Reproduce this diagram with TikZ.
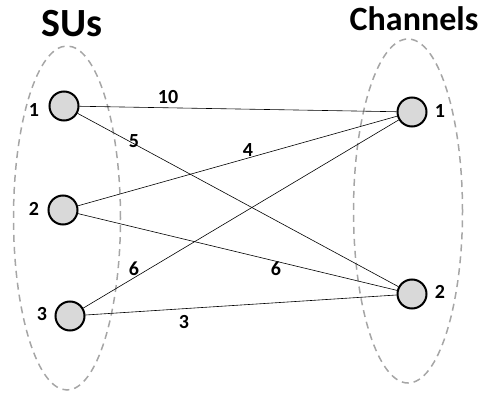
\documentclass[tikz,border=0pt]{standalone}
\usepackage{fontspec}
\setmainfont{Carlito}
\usetikzlibrary{shapes.geometric}
\definecolor{nodefill}{HTML}{D9D9D9}
\definecolor{ringgray}{HTML}{A6A6A6}
\tikzset{
  vert/.style={circle,draw=black,line width=2pt,fill=nodefill,minimum size=29pt,inner sep=0pt},
  ring/.style={ellipse,draw=ringgray,line width=1.5pt,dash pattern=on 7pt off 5pt,inner sep=0pt},
  lbl/.style={font=\fontsize{20}{22}\selectfont\bfseries,inner sep=0pt},
  edge/.style={line width=0.6pt,black}
}
\begin{document}
\begin{tikzpicture}[x=1pt,y=-1pt]
\useasboundingbox (0,0) rectangle (487,401);
\node[ring,minimum width=107pt,minimum height=344pt] (LE) at (67,218) {};
\node[ring,minimum width=109pt,minimum height=344pt] (RE) at (408,211) {};
\node[font=\fontsize{40}{44}\selectfont\bfseries,inner sep=0pt] (sus) at (72,24) {SUs};
\node[font=\fontsize{34}{38}\selectfont\bfseries,inner sep=0pt] (ch) at (414,19) {Channels};
\node[vert] (s1) at (64,106) {};
\node[vert] (s2) at (63,210) {};
\node[vert] (s3) at (70,316) {};
\node[vert] (c1) at (412,112) {};
\node[vert] (c2) at (412,294) {};
\node[lbl] (ls1) at (34,110) {1};
\node[lbl] (ls2) at (34,209) {2};
\node[lbl] (ls3) at (42,314) {3};
\node[lbl] (lc1) at (440,111) {1};
\node[lbl] (lc2) at (440,292) {2};
\draw[edge] (s1) -- (c1);
\draw[edge] (s1) -- (c2);
\draw[edge] (s2) -- (c1);
\draw[edge] (s2) -- (c2);
\draw[edge] (s3) -- (c1);
\draw[edge] (s3) -- (c2);
\node[lbl] (w10) at (168,97) {10};
\node[lbl] (w5) at (134,141) {5};
\node[lbl] (w4) at (248,150) {4};
\node[lbl] (w6a) at (134,269) {6};
\node[lbl] (w6b) at (276,269) {6};
\node[lbl] (w3) at (184,322) {3};
\end{tikzpicture}
\end{document}
